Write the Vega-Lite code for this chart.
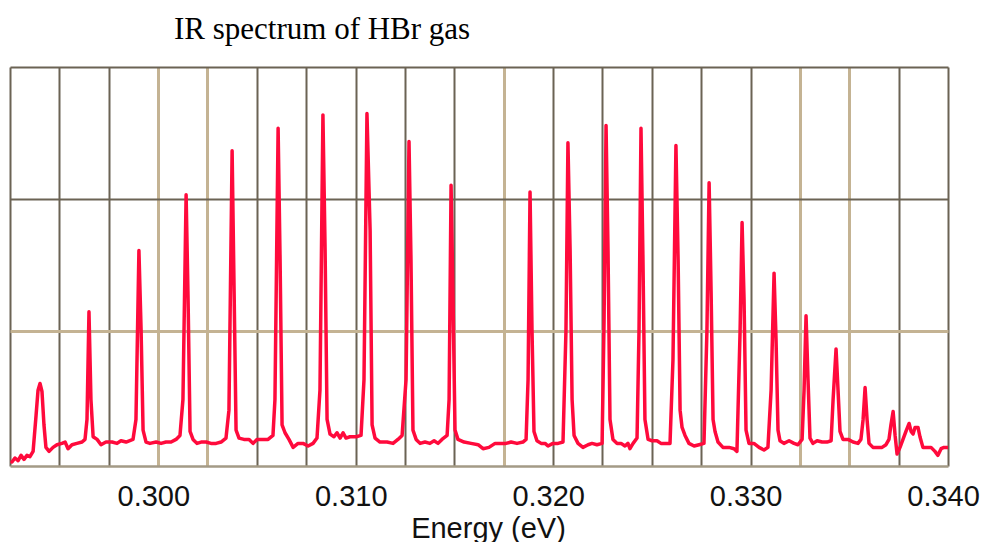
{
  "$schema": "https://vega.github.io/schema/vega-lite/v6.json",
  "width": 938,
  "height": 399,
  "autosize": {"type": "none"},
  "padding": {"left": 10, "top": 67, "right": 36, "bottom": 76},
  "background": "white",
  "config": {"view": {"stroke": null}},
  "title": {
    "text": "IR spectrum of HBr gas",
    "font": "Liberation Serif",
    "fontSize": 31,
    "fontWeight": "normal",
    "color": "#000000",
    "anchor": "start",
    "frame": "group",
    "dx": 164,
    "offset": 21
  },
  "data": {
    "values": [
      {"energy": 0.29284, "a": 0.03}, {"energy": 0.29299, "a": 0.06}, {"energy": 0.29315, "a": 0.04}, {"energy": 0.29330, "a": 0.08},
      {"energy": 0.29345, "a": 0.05}, {"energy": 0.29360, "a": 0.08}, {"energy": 0.29375, "a": 0.07}, {"energy": 0.29391, "a": 0.11},
      {"energy": 0.29406, "a": 0.38}, {"energy": 0.29416, "a": 0.57}, {"energy": 0.29426, "a": 0.62}, {"energy": 0.29436, "a": 0.56},
      {"energy": 0.29446, "a": 0.31}, {"energy": 0.29456, "a": 0.14}, {"energy": 0.29472, "a": 0.11}, {"energy": 0.29492, "a": 0.14},
      {"energy": 0.29512, "a": 0.16}, {"energy": 0.29537, "a": 0.17}, {"energy": 0.29553, "a": 0.18}, {"energy": 0.29568, "a": 0.13},
      {"energy": 0.29588, "a": 0.16}, {"energy": 0.29613, "a": 0.17}, {"energy": 0.29639, "a": 0.18}, {"energy": 0.29654, "a": 0.20},
      {"energy": 0.29664, "a": 0.35}, {"energy": 0.29674, "a": 1.16}, {"energy": 0.29684, "a": 0.50}, {"energy": 0.29695, "a": 0.22},
      {"energy": 0.29715, "a": 0.20}, {"energy": 0.29735, "a": 0.16}, {"energy": 0.29760, "a": 0.18}, {"energy": 0.29791, "a": 0.18},
      {"energy": 0.29816, "a": 0.17}, {"energy": 0.29836, "a": 0.19}, {"energy": 0.29862, "a": 0.18}, {"energy": 0.29897, "a": 0.20},
      {"energy": 0.29912, "a": 0.35}, {"energy": 0.29927, "a": 1.62}, {"energy": 0.29938, "a": 1.02}, {"energy": 0.29948, "a": 0.27},
      {"energy": 0.29963, "a": 0.18}, {"energy": 0.29983, "a": 0.17}, {"energy": 0.30014, "a": 0.18}, {"energy": 0.30039, "a": 0.17},
      {"energy": 0.30064, "a": 0.18}, {"energy": 0.30090, "a": 0.18}, {"energy": 0.30115, "a": 0.20}, {"energy": 0.30135, "a": 0.23},
      {"energy": 0.30150, "a": 0.50}, {"energy": 0.30166, "a": 2.04}, {"energy": 0.30176, "a": 1.25}, {"energy": 0.30186, "a": 0.26},
      {"energy": 0.30201, "a": 0.20}, {"energy": 0.30221, "a": 0.17}, {"energy": 0.30242, "a": 0.18}, {"energy": 0.30267, "a": 0.18},
      {"energy": 0.30292, "a": 0.17}, {"energy": 0.30318, "a": 0.17}, {"energy": 0.30343, "a": 0.18}, {"energy": 0.30368, "a": 0.21},
      {"energy": 0.30383, "a": 0.42}, {"energy": 0.30399, "a": 2.37}, {"energy": 0.30409, "a": 1.32}, {"energy": 0.30419, "a": 0.27},
      {"energy": 0.30434, "a": 0.21}, {"energy": 0.30459, "a": 0.20}, {"energy": 0.30485, "a": 0.20}, {"energy": 0.30505, "a": 0.17},
      {"energy": 0.30525, "a": 0.20}, {"energy": 0.30556, "a": 0.20}, {"energy": 0.30581, "a": 0.20}, {"energy": 0.30606, "a": 0.23},
      {"energy": 0.30616, "a": 0.50}, {"energy": 0.30632, "a": 2.54}, {"energy": 0.30642, "a": 1.55}, {"energy": 0.30652, "a": 0.31},
      {"energy": 0.30667, "a": 0.25}, {"energy": 0.30687, "a": 0.20}, {"energy": 0.30708, "a": 0.14}, {"energy": 0.30733, "a": 0.17},
      {"energy": 0.30758, "a": 0.17}, {"energy": 0.30784, "a": 0.15}, {"energy": 0.30809, "a": 0.17}, {"energy": 0.30829, "a": 0.21},
      {"energy": 0.30844, "a": 0.57}, {"energy": 0.30859, "a": 2.64}, {"energy": 0.30870, "a": 1.62}, {"energy": 0.30880, "a": 0.35},
      {"energy": 0.30895, "a": 0.24}, {"energy": 0.30915, "a": 0.22}, {"energy": 0.30930, "a": 0.25}, {"energy": 0.30946, "a": 0.21},
      {"energy": 0.30961, "a": 0.25}, {"energy": 0.30976, "a": 0.21}, {"energy": 0.30996, "a": 0.22}, {"energy": 0.31027, "a": 0.22},
      {"energy": 0.31052, "a": 0.23}, {"energy": 0.31067, "a": 0.65}, {"energy": 0.31082, "a": 2.65}, {"energy": 0.31098, "a": 1.77},
      {"energy": 0.31108, "a": 0.31}, {"energy": 0.31123, "a": 0.21}, {"energy": 0.31148, "a": 0.18}, {"energy": 0.31184, "a": 0.18},
      {"energy": 0.31214, "a": 0.17}, {"energy": 0.31239, "a": 0.20}, {"energy": 0.31260, "a": 0.23}, {"energy": 0.31280, "a": 0.65},
      {"energy": 0.31295, "a": 2.44}, {"energy": 0.31305, "a": 1.55}, {"energy": 0.31315, "a": 0.27}, {"energy": 0.31331, "a": 0.20},
      {"energy": 0.31351, "a": 0.17}, {"energy": 0.31376, "a": 0.18}, {"energy": 0.31401, "a": 0.17}, {"energy": 0.31422, "a": 0.19},
      {"energy": 0.31442, "a": 0.17}, {"energy": 0.31462, "a": 0.20}, {"energy": 0.31488, "a": 0.23}, {"energy": 0.31498, "a": 0.50},
      {"energy": 0.31508, "a": 2.11}, {"energy": 0.31518, "a": 1.25}, {"energy": 0.31528, "a": 0.27}, {"energy": 0.31543, "a": 0.20},
      {"energy": 0.31574, "a": 0.18}, {"energy": 0.31609, "a": 0.17}, {"energy": 0.31645, "a": 0.16}, {"energy": 0.31670, "a": 0.13},
      {"energy": 0.31700, "a": 0.14}, {"energy": 0.31731, "a": 0.17}, {"energy": 0.31761, "a": 0.17}, {"energy": 0.31786, "a": 0.17},
      {"energy": 0.31812, "a": 0.18}, {"energy": 0.31842, "a": 0.17}, {"energy": 0.31872, "a": 0.18}, {"energy": 0.31888, "a": 0.20},
      {"energy": 0.31898, "a": 0.65}, {"energy": 0.31908, "a": 2.06}, {"energy": 0.31918, "a": 1.02}, {"energy": 0.31928, "a": 0.26},
      {"energy": 0.31943, "a": 0.19}, {"energy": 0.31964, "a": 0.17}, {"energy": 0.31984, "a": 0.17}, {"energy": 0.31999, "a": 0.15},
      {"energy": 0.32024, "a": 0.17}, {"energy": 0.32050, "a": 0.17}, {"energy": 0.32075, "a": 0.18}, {"energy": 0.32090, "a": 1.02},
      {"energy": 0.32100, "a": 2.43}, {"energy": 0.32111, "a": 1.62}, {"energy": 0.32121, "a": 0.50}, {"energy": 0.32131, "a": 0.23},
      {"energy": 0.32151, "a": 0.17}, {"energy": 0.32176, "a": 0.14}, {"energy": 0.32202, "a": 0.16}, {"energy": 0.32222, "a": 0.17},
      {"energy": 0.32247, "a": 0.16}, {"energy": 0.32273, "a": 0.17}, {"energy": 0.32283, "a": 1.10}, {"energy": 0.32293, "a": 2.56},
      {"energy": 0.32303, "a": 1.62}, {"energy": 0.32313, "a": 0.35}, {"energy": 0.32328, "a": 0.20}, {"energy": 0.32349, "a": 0.17},
      {"energy": 0.32369, "a": 0.17}, {"energy": 0.32389, "a": 0.15}, {"energy": 0.32404, "a": 0.17}, {"energy": 0.32414, "a": 0.13},
      {"energy": 0.32430, "a": 0.17}, {"energy": 0.32450, "a": 0.21}, {"energy": 0.32460, "a": 1.02}, {"energy": 0.32470, "a": 2.54},
      {"energy": 0.32480, "a": 1.55}, {"energy": 0.32490, "a": 0.35}, {"energy": 0.32506, "a": 0.20}, {"energy": 0.32526, "a": 0.19},
      {"energy": 0.32551, "a": 0.19}, {"energy": 0.32571, "a": 0.17}, {"energy": 0.32597, "a": 0.17}, {"energy": 0.32617, "a": 0.17},
      {"energy": 0.32632, "a": 0.80}, {"energy": 0.32647, "a": 2.41}, {"energy": 0.32658, "a": 1.55}, {"energy": 0.32668, "a": 0.42},
      {"energy": 0.32678, "a": 0.29}, {"energy": 0.32693, "a": 0.23}, {"energy": 0.32713, "a": 0.17}, {"energy": 0.32739, "a": 0.15},
      {"energy": 0.32764, "a": 0.16}, {"energy": 0.32789, "a": 0.17}, {"energy": 0.32804, "a": 1.02}, {"energy": 0.32815, "a": 2.13},
      {"energy": 0.32825, "a": 1.32}, {"energy": 0.32835, "a": 0.35}, {"energy": 0.32845, "a": 0.26}, {"energy": 0.32860, "a": 0.18},
      {"energy": 0.32885, "a": 0.14}, {"energy": 0.32916, "a": 0.14}, {"energy": 0.32941, "a": 0.13}, {"energy": 0.32956, "a": 0.11},
      {"energy": 0.32972, "a": 1.02}, {"energy": 0.32982, "a": 1.83}, {"energy": 0.32992, "a": 1.25}, {"energy": 0.33002, "a": 0.27},
      {"energy": 0.33017, "a": 0.17}, {"energy": 0.33042, "a": 0.17}, {"energy": 0.33068, "a": 0.14}, {"energy": 0.33093, "a": 0.12},
      {"energy": 0.33113, "a": 0.14}, {"energy": 0.33129, "a": 0.57}, {"energy": 0.33144, "a": 1.45}, {"energy": 0.33154, "a": 0.95},
      {"energy": 0.33164, "a": 0.27}, {"energy": 0.33174, "a": 0.19}, {"energy": 0.33194, "a": 0.17}, {"energy": 0.33220, "a": 0.19},
      {"energy": 0.33245, "a": 0.17}, {"energy": 0.33265, "a": 0.16}, {"energy": 0.33286, "a": 0.20}, {"energy": 0.33296, "a": 0.57},
      {"energy": 0.33306, "a": 1.13}, {"energy": 0.33316, "a": 0.65}, {"energy": 0.33326, "a": 0.21}, {"energy": 0.33341, "a": 0.17},
      {"energy": 0.33362, "a": 0.19}, {"energy": 0.33387, "a": 0.18}, {"energy": 0.33412, "a": 0.18}, {"energy": 0.33433, "a": 0.19},
      {"energy": 0.33443, "a": 0.50}, {"energy": 0.33458, "a": 0.88}, {"energy": 0.33468, "a": 0.57}, {"energy": 0.33478, "a": 0.26},
      {"energy": 0.33493, "a": 0.20}, {"energy": 0.33519, "a": 0.20}, {"energy": 0.33544, "a": 0.18}, {"energy": 0.33569, "a": 0.17},
      {"energy": 0.33584, "a": 0.20}, {"energy": 0.33595, "a": 0.35}, {"energy": 0.33605, "a": 0.59}, {"energy": 0.33615, "a": 0.35},
      {"energy": 0.33625, "a": 0.17}, {"energy": 0.33645, "a": 0.14}, {"energy": 0.33671, "a": 0.14}, {"energy": 0.33691, "a": 0.14},
      {"energy": 0.33711, "a": 0.16}, {"energy": 0.33726, "a": 0.20}, {"energy": 0.33736, "a": 0.31}, {"energy": 0.33747, "a": 0.41},
      {"energy": 0.33757, "a": 0.23}, {"energy": 0.33767, "a": 0.09}, {"energy": 0.33782, "a": 0.14}, {"energy": 0.33797, "a": 0.20},
      {"energy": 0.33812, "a": 0.26}, {"energy": 0.33828, "a": 0.32}, {"energy": 0.33838, "a": 0.26}, {"energy": 0.33848, "a": 0.24},
      {"energy": 0.33858, "a": 0.29}, {"energy": 0.33873, "a": 0.29}, {"energy": 0.33883, "a": 0.22}, {"energy": 0.33898, "a": 0.14},
      {"energy": 0.33919, "a": 0.14}, {"energy": 0.33939, "a": 0.14}, {"energy": 0.33959, "a": 0.11}, {"energy": 0.33974, "a": 0.08},
      {"energy": 0.33990, "a": 0.13}, {"energy": 0.34005, "a": 0.14}, {"energy": 0.34025, "a": 0.14}
    ]
  },
  "mark": {"type": "line", "color": "#ff0a3c", "strokeWidth": 3.5, "strokeJoin": "round", "strokeCap": "round", "clip": true},
  "encoding": {
    "x": {
      "field": "energy",
      "type": "quantitative",
      "scale": {"domain": [0.29274, 0.34025], "nice": false, "zero": false},
      "axis": {
        "title": "Energy (eV)",
        "titleFont": "Liberation Sans",
        "titleFontSize": 29,
        "titleFontWeight": "normal",
        "titleColor": "#111111",
        "titleBaseline": "alphabetic",
        "titleX": 478,
        "titleY": 71,
        "titleAnchor": "middle",
        "titleAlign": "center",
        "values": [0.29274, 0.29524, 0.29774, 0.30024, 0.30274, 0.30524, 0.30774, 0.31024, 0.31274, 0.31524, 0.31775, 0.32025, 0.32275, 0.32525, 0.32775, 0.33025, 0.33275, 0.33525, 0.33775, 0.34025, 0.30, 0.31, 0.32, 0.33, 0.34],
        "labelExpr": "abs(datum.value * 100 - round(datum.value * 100)) < 0.0001 ? format(datum.value, '.3f') : ''",
        "labelFont": "Liberation Sans",
        "labelFontSize": 29,
        "labelColor": "#111111",
        "labelBaseline": "alphabetic",
        "labelPadding": 39,
        "labelOverlap": false,
        "labelFlush": false,
        "labelBound": false,
        "ticks": false,
        "tickSize": 0,
        "domain": true,
        "domainColor": "#a39a86",
        "domainWidth": 2.5,
        "grid": true,
        "gridOpacity": {"condition": {"test": "abs(datum.value * 100 - round(datum.value * 100)) < 0.0001", "value": 0}, "value": 1},
        "gridColor": {"condition": {"test": "(datum.value > 0.3001 && datum.value < 0.303) || (datum.value > 0.317 && datum.value < 0.3185) || (datum.value > 0.332 && datum.value < 0.336)", "value": "#c4b393"}, "value": "#6b6354"},
        "gridWidth": {"condition": {"test": "(datum.value > 0.3001 && datum.value < 0.303) || (datum.value > 0.317 && datum.value < 0.3185) || (datum.value > 0.332 && datum.value < 0.336)", "value": 3}, "value": 2}
      }
    },
    "y": {
      "field": "a",
      "type": "quantitative",
      "scale": {"domain": [0, 3], "nice": false, "zero": false},
      "axis": {
        "title": null,
        "labels": false,
        "ticks": false,
        "domain": false,
        "grid": true,
        "values": [1.015, 2.008, 3],
        "gridColor": {"condition": {"test": "datum.value < 1.5", "value": "#c4b393"}, "value": "#6b6354"},
        "gridWidth": {"condition": {"test": "datum.value < 1.5", "value": 3}, "value": 2}
      }
    }
  }
}
